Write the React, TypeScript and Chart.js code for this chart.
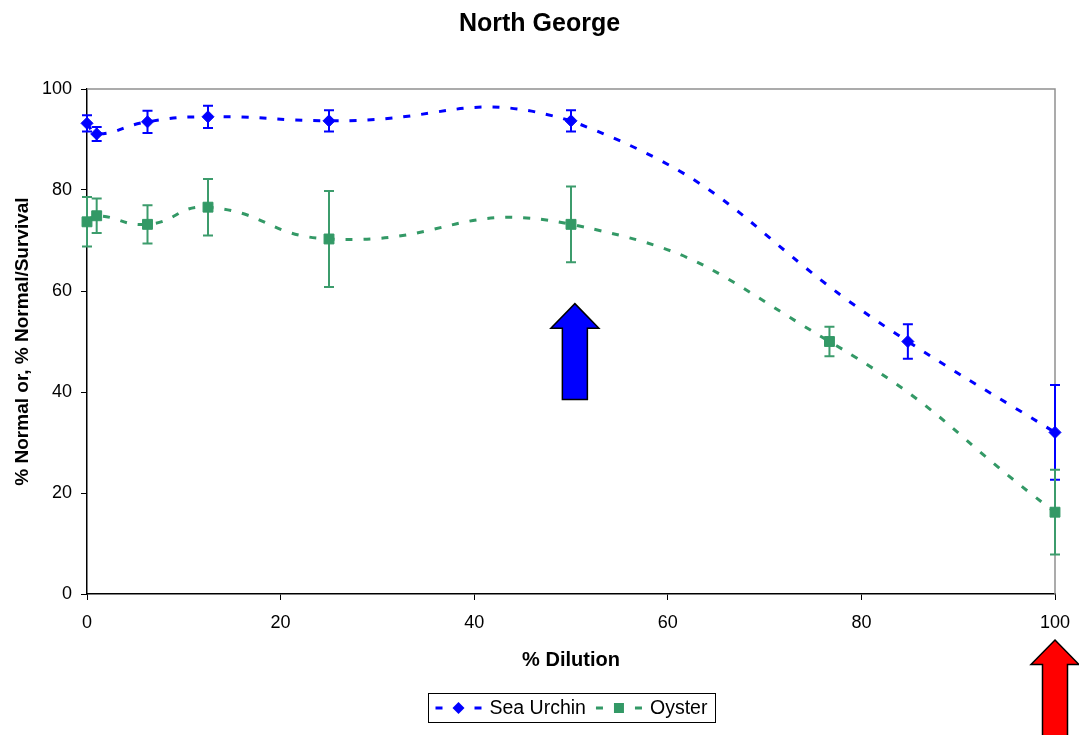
import React, { useEffect, useRef } from 'react';
import { Chart, registerables } from 'chart.js';

Chart.register(...registerables);

const chartTitle = 'North George';
const xAxisTitle = '% Dilution';
const yAxisTitle = '% Normal or, % Normal/Survival';
const xTickValues = [0, 20, 40, 60, 80, 100];
const yTickValues = [0, 20, 40, 60, 80, 100];

const urchinLabel = 'Sea Urchin';
const urchinX = [0, 1, 6.25, 12.5, 25, 50, 84.8, 100];
const urchinY = [93.2, 91.1, 93.5, 94.5, 93.7, 93.7, 50.0, 32.0];
const urchinErr = [1.6, 1.4, 2.2, 2.2, 2.1, 2.1, 3.4, 9.4];

const oysterLabel = 'Oyster';
const oysterX = [0, 1, 6.25, 12.5, 25, 50, 76.7, 100];
const oysterY = [73.7, 74.9, 73.2, 76.6, 70.3, 73.2, 50.0, 16.2];
const oysterErr = [4.9, 3.4, 3.8, 5.6, 9.5, 7.5, 2.9, 8.4];

// annotation arrows (x position in data units, tip/tail in y data units)
const arrowXs = [50.4, 100];
const arrowTips = [57.5, -9.1];
const arrowTails = [38.5, -40];
const arrowColors = ['#0000FF', '#FF0000'];

const FONT = '"Liberation Sans", Arial, Helvetica, sans-serif';
const BLUE = '#0000FF';
const GREEN = '#339966';

const titlePlugin = {
  id: 'centeredTitle',
  afterDraw(chart: any) {
    const { ctx } = chart;
    ctx.save();
    ctx.font = `bold 25px ${FONT}`;
    ctx.fillStyle = '#000';
    ctx.textAlign = 'center';
    ctx.textBaseline = 'alphabetic';
    ctx.fillText(chartTitle, chart.width / 2, 31);
    ctx.restore();
  },
};

const framePlugin = {
  id: 'frame',
  beforeDatasetsDraw(chart: any) {
    const { ctx, chartArea: a } = chart;
    ctx.save();
    ctx.strokeStyle = '#909090';
    ctx.lineWidth = 1.5;
    ctx.beginPath();
    ctx.moveTo(a.left, a.top);
    ctx.lineTo(a.right, a.top);
    ctx.lineTo(a.right, a.bottom);
    ctx.stroke();
    ctx.restore();
  },
};

const errorBarsPlugin = {
  id: 'errorBars',
  beforeDatasetsDraw(chart: any) {
    const { ctx } = chart;
    const ys = chart.scales.y;
    chart.data.datasets.forEach((ds: any, i: number) => {
      const meta = chart.getDatasetMeta(i);
      ctx.save();
      ctx.strokeStyle = ds.errorColor;
      ctx.lineWidth = 2;
      meta.data.forEach((pt: any, j: number) => {
        const v = ds.data[j].y;
        const e = ds.errors[j];
        const top = ys.getPixelForValue(v + e);
        const bot = ys.getPixelForValue(v - e);
        const px = pt.x;
        ctx.beginPath();
        ctx.moveTo(px, top);
        ctx.lineTo(px, bot);
        ctx.moveTo(px - 5, top);
        ctx.lineTo(px + 5, top);
        ctx.moveTo(px - 5, bot);
        ctx.lineTo(px + 5, bot);
        ctx.stroke();
      });
      ctx.restore();
    });
  },
};

const arrowsPlugin = {
  id: 'arrows',
  afterDraw(chart: any) {
    const { ctx } = chart;
    const xs = chart.scales.x;
    const ys = chart.scales.y;
    arrowXs.forEach((xv, i) => {
      const cx = xs.getPixelForValue(xv);
      const tip = ys.getPixelForValue(arrowTips[i]);
      const tail = ys.getPixelForValue(arrowTails[i]);
      const headH = 24.5;
      const headW = 24;
      const bodyW = 12.5;
      ctx.save();
      ctx.beginPath();
      ctx.moveTo(cx, tip);
      ctx.lineTo(cx + headW, tip + headH);
      ctx.lineTo(cx + bodyW, tip + headH);
      ctx.lineTo(cx + bodyW, tail);
      ctx.lineTo(cx - bodyW, tail);
      ctx.lineTo(cx - bodyW, tip + headH);
      ctx.lineTo(cx - headW, tip + headH);
      ctx.closePath();
      ctx.fillStyle = arrowColors[i];
      ctx.fill();
      ctx.strokeStyle = '#000';
      ctx.lineWidth = 1.5;
      ctx.stroke();
      ctx.restore();
    });
  },
};

function drawMarker(ctx: CanvasRenderingContext2D, style: string, x: number, y: number, color: string) {
  ctx.fillStyle = color;
  ctx.beginPath();
  if (style === 'rectRot') {
    const r = 6;
    ctx.moveTo(x - r, y);
    ctx.lineTo(x, y - r);
    ctx.lineTo(x + r, y);
    ctx.lineTo(x, y + r);
    ctx.closePath();
  } else {
    ctx.rect(x - 5, y - 5, 10, 10);
  }
  ctx.fill();
}

const boxLegendPlugin = {
  id: 'boxLegend',
  afterDraw(chart: any) {
    const { ctx, chartArea: a } = chart;
    ctx.save();
    ctx.font = `19.5px ${FONT}`;
    const sampleW = 46;
    const gapText = 8;
    const gapItem = 10;
    const padL = 7;
    const padR = 8;
    const items = chart.data.datasets.map((ds: any) => ({ ds, tw: ctx.measureText(ds.label).width }));
    const total =
      padL + padR + items.reduce((s: number, it: any) => s + sampleW + gapText + it.tw, 0) + gapItem * (items.length - 1);
    const cx = (a.left + a.right) / 2;
    const x0 = Math.round(cx - total / 2) + 0.5;
    const top = chart.height - 42 + 0.5;
    const h = 29;
    ctx.strokeStyle = '#000';
    ctx.lineWidth = 1;
    ctx.strokeRect(x0, top, Math.round(total), h);
    const cy = top + h / 2;
    let x = x0 + padL;
    items.forEach((it: any) => {
      const ds = it.ds;
      ctx.strokeStyle = ds.borderColor;
      ctx.lineWidth = 3;
      ctx.beginPath();
      ctx.moveTo(x, cy);
      ctx.lineTo(x + 7, cy);
      ctx.moveTo(x + 39, cy);
      ctx.lineTo(x + 46, cy);
      ctx.stroke();
      drawMarker(ctx, ds.pointStyle, x + 23, cy, ds.backgroundColor);
      ctx.fillStyle = '#000';
      ctx.textBaseline = 'middle';
      ctx.textAlign = 'left';
      ctx.fillText(ds.label, x + sampleW + gapText, cy + 1);
      x += sampleW + gapText + it.tw + gapItem;
    });
    ctx.restore();
  },
};

export default function App() {
  const canvasRef = useRef<HTMLCanvasElement | null>(null);

  useEffect(() => {
    if (!canvasRef.current) return;
    Chart.defaults.font.family = FONT;
    const chart = new Chart(canvasRef.current, {
      type: 'line',
      data: {
        datasets: [
          {
            label: urchinLabel,
            data: urchinX.map((x, i) => ({ x, y: urchinY[i] })),
            errors: urchinErr,
            errorColor: BLUE,
            borderColor: BLUE,
            backgroundColor: BLUE,
            borderWidth: 3,
            borderDash: [7, 11],
            tension: 0.5,
            pointStyle: 'rectRot',
            pointRadius: 6,
            pointBorderWidth: 1,
            pointBorderColor: BLUE,
            pointBackgroundColor: BLUE,
            clip: false,
          } as any,
          {
            label: oysterLabel,
            data: oysterX.map((x, i) => ({ x, y: oysterY[i] })),
            errors: oysterErr,
            errorColor: '#3c9c6c',
            borderColor: GREEN,
            backgroundColor: GREEN,
            borderWidth: 3,
            borderDash: [7, 11],
            tension: 0.5,
            pointStyle: 'rect',
            pointRadius: 7,
            pointBorderWidth: 1,
            pointBorderColor: GREEN,
            pointBackgroundColor: GREEN,
            clip: false,
          } as any,
        ],
      },
      options: {
        animation: false,
        responsive: true,
        maintainAspectRatio: false,
        events: [],
        layout: { padding: { left: 0, right: 24, top: 89, bottom: 61 } },
        plugins: {
          legend: { display: false },
          tooltip: { enabled: false },
          title: { display: false },
        },
        scales: {
          x: {
            type: 'linear',
            min: 0,
            max: 100,
            afterBuildTicks: (s: any) => {
              s.ticks = xTickValues.map((v) => ({ value: v }));
            },
            ticks: { color: '#000', font: { size: 18, family: FONT }, padding: 12, maxRotation: 0 },
            grid: { drawOnChartArea: false, drawTicks: true, tickLength: 6, color: '#000', lineWidth: 1 },
            border: { display: true, color: '#000', width: 1.5 },
            title: {
              display: true,
              text: xAxisTitle,
              color: '#000',
              font: { size: 20, weight: 'bold', family: FONT },
              padding: { top: 2, bottom: 2 },
            },
            afterFit: (s: any) => {
              s.height = 80;
              s.paddingLeft = 0;
              s.paddingRight = 0;
            },
          },
          y: {
            type: 'linear',
            min: 0,
            max: 100,
            afterBuildTicks: (s: any) => {
              s.ticks = yTickValues.map((v) => ({ value: v }));
            },
            ticks: { color: '#000', font: { size: 18, family: FONT }, padding: 9 },
            grid: { drawOnChartArea: false, drawTicks: true, tickLength: 6, color: '#000', lineWidth: 1 },
            border: { display: true, color: '#000', width: 1.5 },
            title: {
              display: true,
              text: yAxisTitle,
              color: '#000',
              font: { size: 19, weight: 'bold', family: FONT },
              padding: { top: 11, bottom: 11 },
            },
            afterFit: (s: any) => {
              s.width = 87;
              s.paddingTop = 0;
              s.paddingBottom = 0;
            },
          },
        },
      } as any,
      plugins: [titlePlugin, framePlugin, errorBarsPlugin, arrowsPlugin, boxLegendPlugin],
    });
    return () => chart.destroy();
  }, []);

  return (
    <div style={{ position: 'fixed', left: 0, top: 0, width: 1079, height: 735, background: '#fff' }}>
      <canvas ref={canvasRef} />
    </div>
  );
}
